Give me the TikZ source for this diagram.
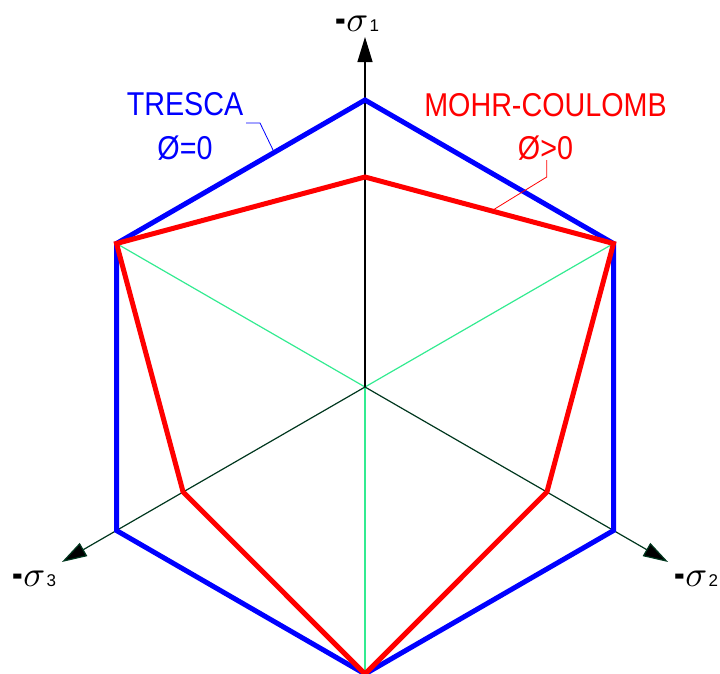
\documentclass[tikz,border=0pt]{standalone}
\usepackage{fontspec}
\setmainfont{Liberation Sans}
\newfontfamily\narrowfont[FakeStretch=0.87]{Liberation Sans}
\usetikzlibrary{arrows.meta}
\definecolor{tblue}{RGB}{0,0,255}
\definecolor{tred}{RGB}{255,0,0}
\definecolor{lgreen}{RGB}{51,235,145}
\definecolor{dgreen}{RGB}{0,55,30}
\newcommand{\siglab}[1]{\raisebox{-1pt}{\scalebox{3.2}[4.2]{\bfseries -}}\kern0.5pt\scalebox{3.6}{$\sigma$}\kern1.5pt\scalebox{1.7}{#1}}
\tikzset{
  thickline/.style={line width=5pt, line join=miter},
  axisline/.style={line width=1.2pt, -{Triangle[length=25pt,width=15pt]}},
  guide/.style={line width=1.2pt},
  leader/.style={line width=0.8pt},
  lbl/.style={inner sep=0pt, anchor=base},
  siglbl/.style={inner sep=0pt, anchor=base west, font=\fontsize{10}{10}\selectfont},
  bigtext/.style={font=\narrowfont\fontsize{33}{33}\selectfont}
}
\begin{document}
\begin{tikzpicture}[x=1pt,y=-1pt]
\useasboundingbox (0,0) rectangle (720,673);
% key points
\coordinate (O) at (365,387);
\coordinate (T) at (365,100);
\coordinate (UR) at (613.5,243.5);
\coordinate (LR) at (613.5,530.5);
\coordinate (B) at (365,674);
\coordinate (LL) at (116.5,530.5);
\coordinate (UL) at (116.5,243.5);
\coordinate (RT) at (365,177);
\coordinate (RLR) at (546.9,492);
\coordinate (RLL) at (183.1,492);
\coordinate (A1) at (365,37);
\coordinate (A2) at (668.1,562);
\coordinate (A3) at (61.9,562);
% guide lines
\draw[guide, lgreen] (O) -- (UL);
\draw[guide, lgreen] (O) -- (UR);
\draw[guide, lgreen] (O) -- (B);
% axes
\draw[axisline, black] (O) -- (A1);
\draw[axisline, dgreen, -{Triangle[length=25pt,width=15pt,fill=black]}] (O) -- (A2);
\draw[axisline, dgreen, -{Triangle[length=25pt,width=15pt,fill=black]}] (O) -- (A3);
% Tresca hexagon
\draw[thickline, tblue] (T) -- (UR) -- (LR) -- (B) -- (LL) -- (UL) -- cycle;
% Mohr-Coulomb
\draw[thickline, tred] (RT) -- (UR) -- (RLR) -- (B) -- (RLL) -- (UL) -- cycle;
% labels
\node[lbl, bigtext, text=tblue] (tresca) at (185,115) {TRESCA};
\node[lbl, bigtext, text=tblue] (trescaphi) at (185,159) {Ø=0};
\node[lbl, bigtext, text=tred] (mc) at (545.5,116) {MOHR-COULOMB};
\node[lbl, bigtext, text=tred] (mcphi) at (545.5,159) {Ø>0};
\coordinate (tl1) at (246,123);
\coordinate (tl2) at (260,123);
\coordinate (tl3) at (274,152);
\draw[leader, tblue] (tl1) -- (tl2) -- (tl3);
\coordinate (ml1) at (546.7,160);
\coordinate (ml2) at (546.7,177);
\coordinate (ml3) at (493,210);
\draw[leader, tred] (ml1) -- (ml2) -- (ml3);
\node[siglbl] (s1) at (335,31) {\siglab{1}};
\node[siglbl] (s2) at (674,586) {\siglab{2}};
\node[siglbl] (s3) at (12,586) {\siglab{3}};
\end{tikzpicture}
\end{document}
